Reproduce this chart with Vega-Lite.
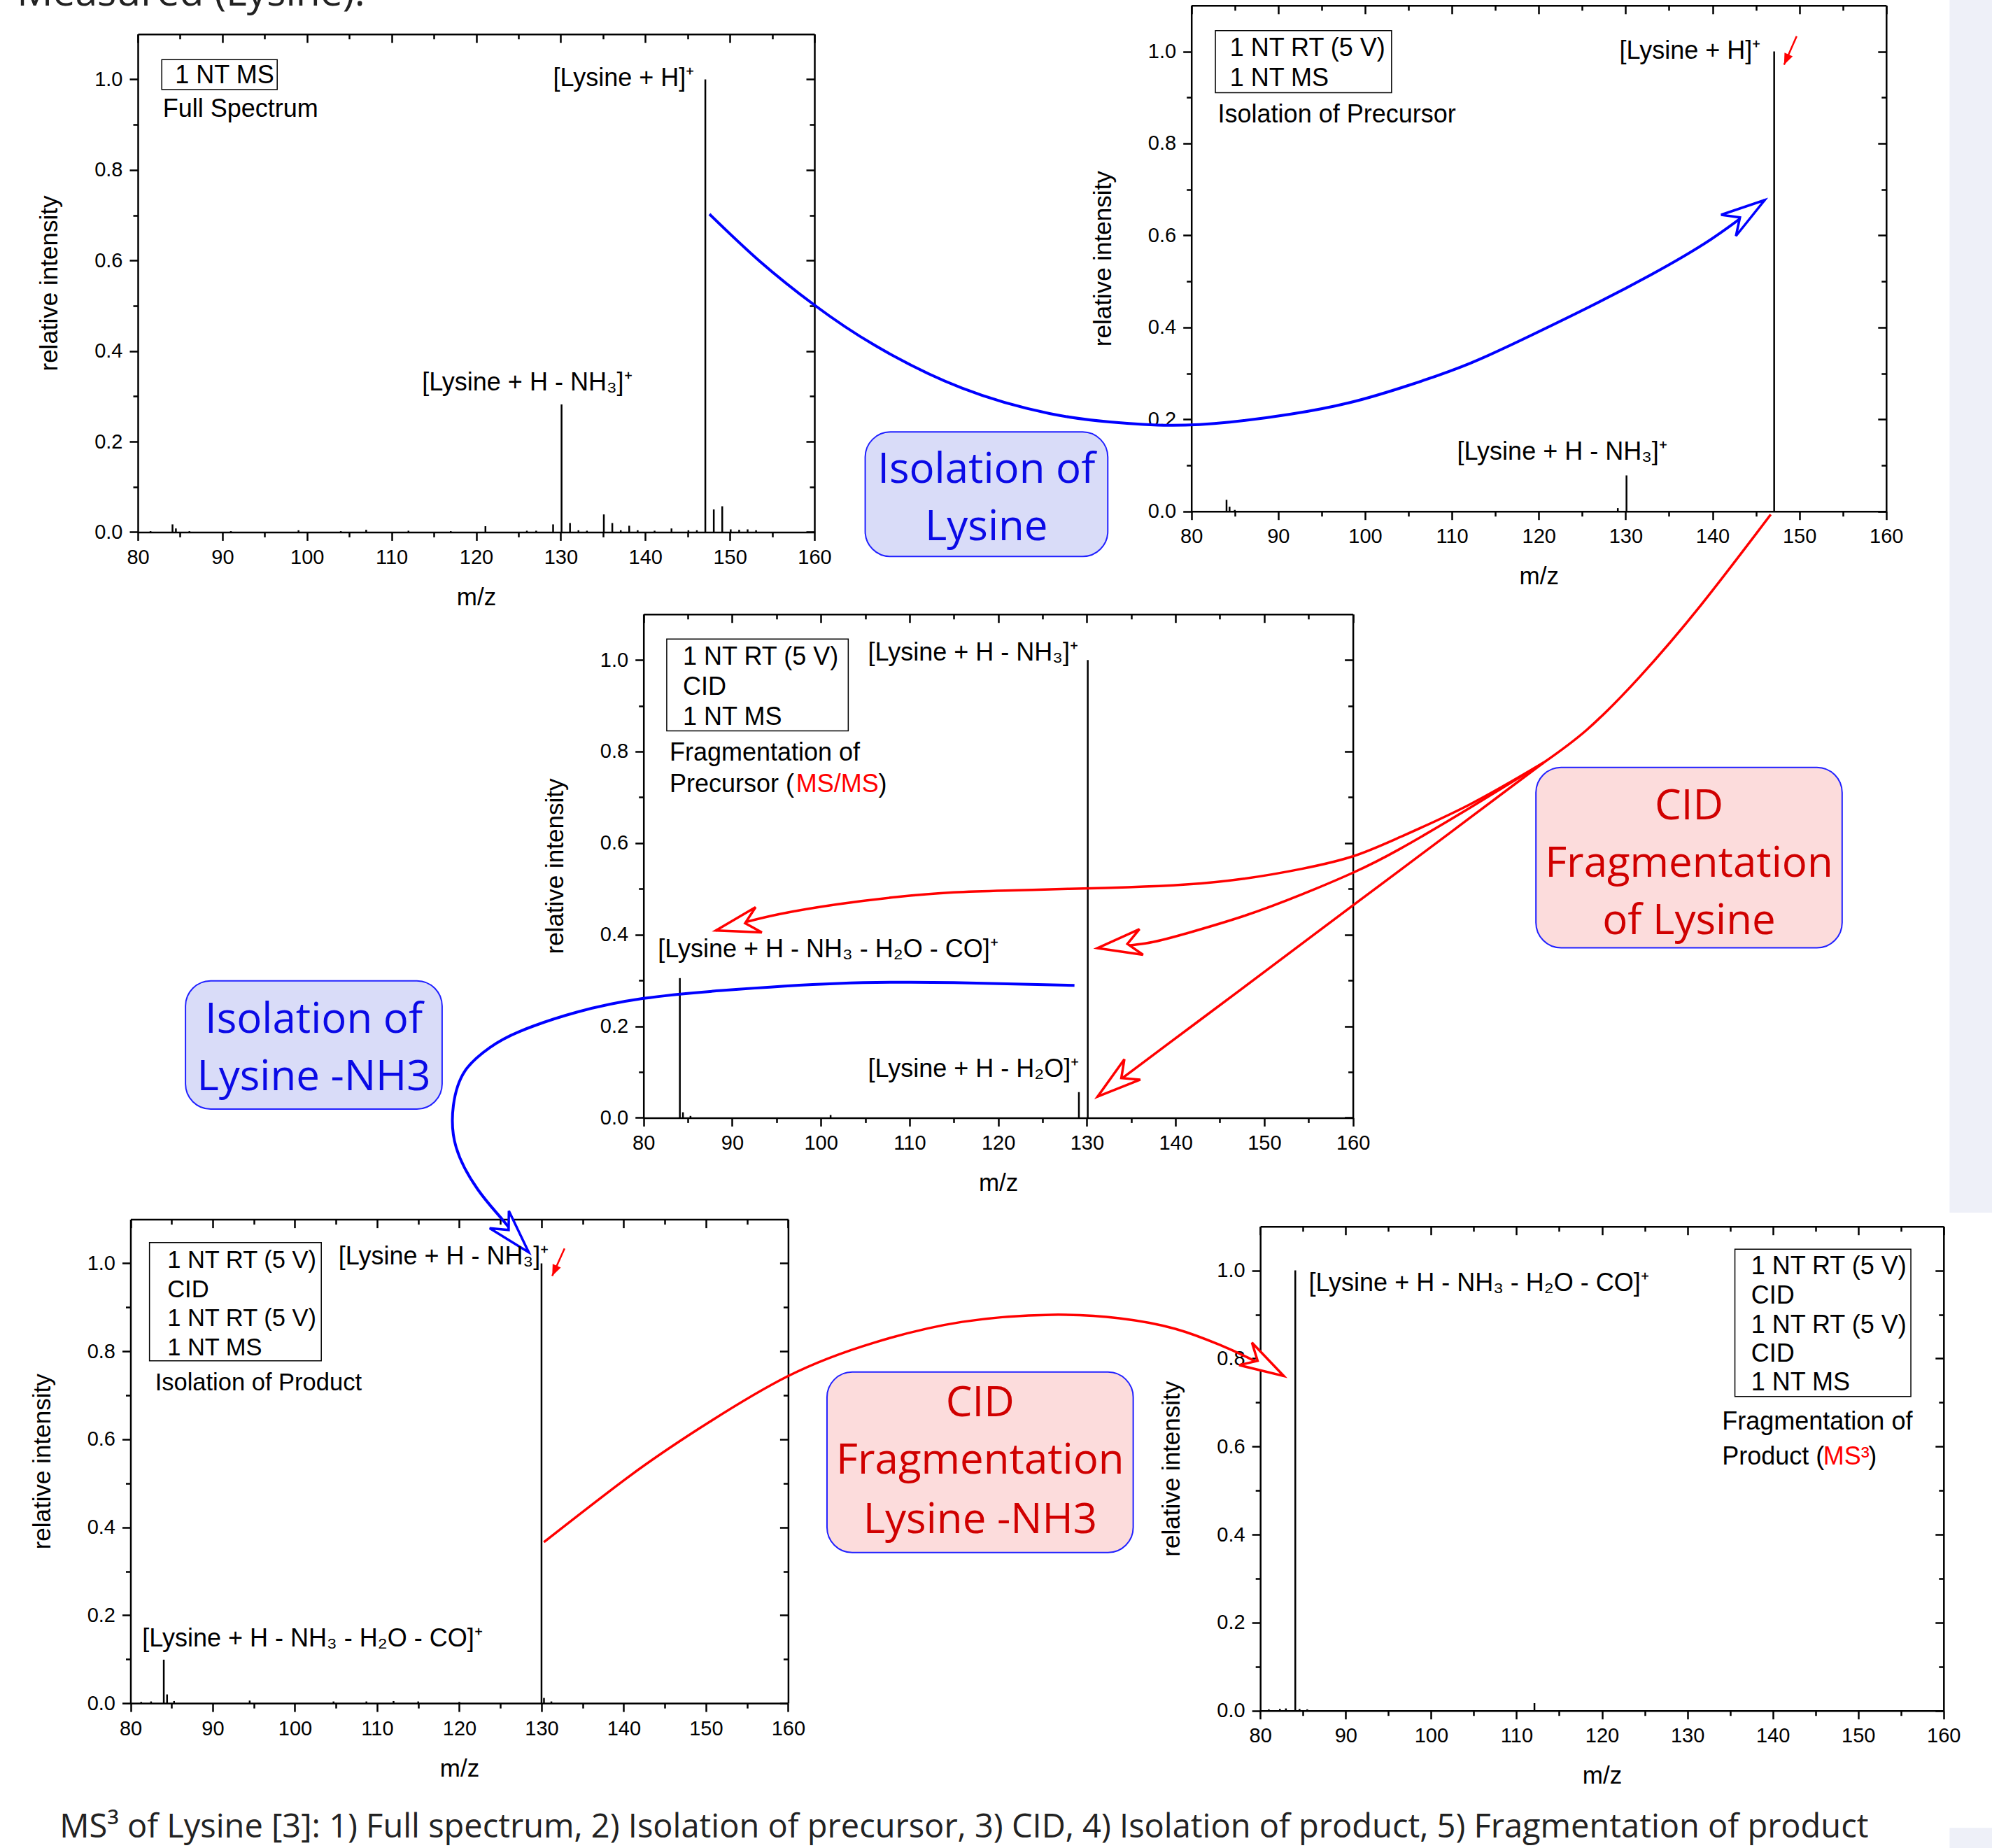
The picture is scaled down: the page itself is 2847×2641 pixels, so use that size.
{
"$schema": "https://vega.github.io/schema/vega-lite/v6.json",
"width": 2847, "height": 2641,
"autosize": {"type": "none"},
"padding": 0,
"background": "white",
"config": {
 "view": {"stroke": null},
 "axis": {"grid": false, "domainColor": "black", "domainWidth": 2.5, "tickColor": "black", "tickWidth": 2.5, "labelColor": "black", "titleColor": "black", "labelFont": "Liberation Sans", "labelFontSize": 29, "titleFont": "Liberation Sans", "titleFontSize": 35, "titleFontWeight": "normal", "labelFlush": false, "labelOverlap": false, "labelBound": false},
 "axisX": {"labelPadding": 10, "titlePadding": 25},
 "axisY": {"labelPadding": 10, "titlePadding": 46},
 "text": {"font": "Liberation Sans", "fontSize": 36, "baseline": "alphabetic", "align": "left", "color": "black"}
},
"datasets": {
 "bg": [{"mz":167.3,"mz2":176,"i":1.2,"i2":-1.525},{"mz":167.3,"mz2":176,"i":-2.863,"i2":-2.95}],
 "s1": [{"mz":81.5,"i":0.002},{"mz":84.1,"i":0.017},{"mz":84.5,"i":0.008},{"mz":86.1,"i":0.002},{"mz":91.0,"i":0.002},{"mz":99.0,"i":0.004},{"mz":104.0,"i":0.002},{"mz":107.0,"i":0.005},{"mz":112.0,"i":0.003},{"mz":117.0,"i":0.002},{"mz":121.1,"i":0.013},{"mz":126.0,"i":0.003},{"mz":127.1,"i":0.003},{"mz":129.1,"i":0.017},{"mz":130.1,"i":0.282},{"mz":131.1,"i":0.02},{"mz":132.1,"i":0.004},{"mz":133.1,"i":0.003},{"mz":135.1,"i":0.039},{"mz":136.1,"i":0.02},{"mz":137.1,"i":0.004},{"mz":138.1,"i":0.014},{"mz":139.1,"i":0.004},{"mz":141.1,"i":0.003},{"mz":143.1,"i":0.008},{"mz":145.1,"i":0.004},{"mz":146.1,"i":0.004},{"mz":147.1,"i":1.0},{"mz":148.1,"i":0.05},{"mz":149.1,"i":0.057},{"mz":150.1,"i":0.006},{"mz":151.1,"i":0.005},{"mz":152.1,"i":0.006},{"mz":153.1,"i":0.004}],
 "pk1": [{"mz":129.1,"i":0.985,"text":"[Lysine + H]⁺"},{"mz":113.6,"i":0.313,"text":"[Lysine + H - NH₃]⁺"}],
 "nt1": [{"mz":84.41,"i":0.9913,"text":"1 NT MS"},{"mz":82.96,"i":0.9168,"text":"Full Spectrum"}],
 "b1": [{"mz":82.83,"mz2":96.48,"i":1.0434,"i2":0.9774}],
 "ms": [{"mz":65.7,"i":1.163,"text":"Measured (Lysine):"}],
 "s2": [{"mz":84.05,"i":0.025},{"mz":84.4,"i":0.01},{"mz":85.0,"i":0.003},{"mz":129.1,"i":0.007},{"mz":130.1,"i":0.078},{"mz":147.1,"i":1.0}],
 "pk2": [{"mz":129.28,"i":0.9837,"text":"[Lysine + H]⁺"},{"mz":110.59,"i":0.1127,"text":"[Lysine + H - NH₃]⁺"}],
 "nt2": [{"mz":84.43,"i":0.9897,"text":"1 NT RT (5 V)"},{"mz":84.43,"i":0.924,"text":"1 NT MS"},{"mz":83.05,"i":0.8454,"text":"Isolation of Precursor"}],
 "b2": [{"mz":82.77,"mz2":103.05,"i":1.0452,"i2":0.9104}],
 "ab2": [{"mz":42.45,"mz2":70.38,"i":0.1725,"i2":-0.0983}],
 "at2": [{"mz":56.4,"i":0.0619,"text":"Isolation of"},{"mz":56.4,"i":-0.0624,"text":"Lysine"}],
 "arA": [{"k":0,"mz":24.52,"i":0.6463},{"k":1,"mz":30.32,"i":0.5437},{"k":2,"mz":36.61,"i":0.4484},{"k":3,"mz":43.53,"i":0.3612},{"k":4,"mz":53.6,"i":0.2678},{"k":5,"mz":63.67,"i":0.2126},{"k":6,"mz":70.6,"i":0.1943},{"k":7,"mz":77.53,"i":0.187},{"k":8,"mz":84.43,"i":0.1939},{"k":9,"mz":91.35,"i":0.2109},{"k":10,"mz":98.27,"i":0.2365},{"k":11,"mz":105.19,"i":0.275},{"k":12,"mz":112.11,"i":0.322},{"k":13,"mz":119.03,"i":0.3818},{"k":14,"mz":125.95,"i":0.4457},{"k":15,"mz":132.87,"i":0.514},{"k":16,"mz":139.79,"i":0.591},{"k":17,"mz":146.0,"i":0.6767}],
 "hA": [{"mz":146.0,"i":0.6767}],
 "rp2": [{"k":0,"mz":149.69,"i":1.0333},{"k":1,"mz":148.24,"i":0.971}],
 "hp2": [{"mz":148.24,"i":0.971}],
 "s3": [{"mz":84.1,"i":0.305},{"mz":84.45,"i":0.012},{"mz":85.3,"i":0.004},{"mz":101.1,"i":0.006},{"mz":129.1,"i":0.056},{"mz":130.1,"i":1.0}],
 "pk3": [{"mz":105.31,"i":0.998,"text":"[Lysine + H - NH₃]⁺"},{"mz":81.63,"i":0.3508,"text":"[Lysine + H - NH₃ - H₂O - CO]⁺"},{"mz":105.31,"i":0.0891,"text":"[Lysine + H - H₂O]⁺"}],
 "nt3": [{"mz":84.45,"i":0.9897,"text":"1 NT RT (5 V)"},{"mz":84.45,"i":0.9237,"text":"CID"},{"mz":84.45,"i":0.8585,"text":"1 NT MS"},{"mz":82.94,"i":0.7796,"text":"Fragmentation of"},{"mz":82.94,"i":0.711,"text":"Precursor ("},{"mz":106.5,"i":0.711,"text":")"}],
 "rd3": [{"mz":97.2,"i":0.711,"text":"MS/MS"}],
 "b3": [{"mz":82.62,"mz2":103.09,"i":1.0455,"i2":0.8449}],
 "ab3r": [{"mz":180.64,"mz2":215.17,"i":0.7652,"i2":0.3712}],
 "at3r": [{"mz":197.9,"i":0.6517,"text":"CID"},{"mz":197.9,"i":0.5267,"text":"Fragmentation"},{"mz":197.9,"i":0.4018,"text":"of Lysine"}],
 "ab3b": [{"mz":28.35,"mz2":57.29,"i":0.2991,"i2":0.0188}],
 "at3b": [{"mz":42.82,"i":0.1855,"text":"Isolation of"},{"mz":42.82,"i":0.0604,"text":"Lysine -NH3"}],
 "arB": [{"k":0,"mz":128.6,"i":0.289},{"k":1,"mz":114.99,"i":0.2953},{"k":2,"mz":101.91,"i":0.2933},{"k":3,"mz":88.83,"i":0.2779},{"k":4,"mz":80.0,"i":0.2607},{"k":5,"mz":72.48,"i":0.2306},{"k":6,"mz":65.94,"i":0.1878},{"k":7,"mz":62.67,"i":0.1534},{"k":8,"mz":59.9,"i":0.1032},{"k":9,"mz":58.56,"i":0.0266},{"k":10,"mz":58.88,"i":-0.0651},{"k":11,"mz":61.32,"i":-0.1568},{"k":12,"mz":64.09,"i":-0.2225},{"k":13,"mz":67.06,"i":-0.294}],
 "hB": [{"mz":67.06,"i":-0.294}],
 "arT": [{"k":0,"mz":207.12,"i":1.3177},{"k":1,"mz":199.21,"i":1.1189},{"k":2,"mz":192.3,"i":0.9622},{"k":3,"mz":186.4,"i":0.8478},{"k":4,"mz":181.49,"i":0.7755}],
 "arR1": [{"k":0,"mz":181.49,"i":0.7755},{"k":1,"mz":173.13,"i":0.6839},{"k":2,"mz":165.24,"i":0.6124},{"k":3,"mz":160.0,"i":0.5711},{"k":4,"mz":154.25,"i":0.5438},{"k":5,"mz":147.71,"i":0.5222},{"k":6,"mz":141.16,"i":0.5094},{"k":7,"mz":134.62,"i":0.5034},{"k":8,"mz":128.0,"i":0.5},{"k":9,"mz":121.53,"i":0.4966},{"k":10,"mz":114.99,"i":0.4923},{"k":11,"mz":108.45,"i":0.482},{"k":12,"mz":101.91,"i":0.4665},{"k":13,"mz":95.37,"i":0.4451},{"k":14,"mz":90.79,"i":0.4237},{"k":15,"mz":88.17,"i":0.4091}],
 "hR1": [{"mz":88.17,"i":0.4091}],
 "arR2": [{"k":0,"mz":181.49,"i":0.7755},{"k":1,"mz":173.13,"i":0.6761},{"k":2,"mz":165.24,"i":0.5866},{"k":3,"mz":160.0,"i":0.5352},{"k":4,"mz":154.25,"i":0.488},{"k":5,"mz":147.71,"i":0.4408},{"k":6,"mz":141.16,"i":0.4023},{"k":7,"mz":136.58,"i":0.3807},{"k":8,"mz":131.21,"i":0.3705}],
 "hR2": [{"mz":131.21,"i":0.3705}],
 "arR3": [{"k":0,"mz":181.49,"i":0.7755},{"k":1,"mz":173.13,"i":0.6541},{"k":2,"mz":165.24,"i":0.5397},{"k":3,"mz":155.77,"i":0.4023},{"k":4,"mz":147.71,"i":0.2852},{"k":5,"mz":139.2,"i":0.1619},{"k":6,"mz":131.21,"i":0.0462}],
 "hR3": [{"mz":131.21,"i":0.0462}],
 "s4": [{"mz":81.3,"i":0.003},{"mz":82.5,"i":0.004},{"mz":84.05,"i":0.099},{"mz":84.45,"i":0.02},{"mz":85.3,"i":0.005},{"mz":94.5,"i":0.006},{"mz":104.7,"i":0.004},{"mz":108.7,"i":0.004},{"mz":112.0,"i":0.005},{"mz":115.0,"i":0.004},{"mz":120.0,"i":0.003},{"mz":130.0,"i":1.0},{"mz":130.3,"i":0.012},{"mz":131.2,"i":0.004}],
 "pk4": [{"mz":105.31,"i":0.998,"text":"[Lysine + H - NH₃]⁺"},{"mz":81.43,"i":0.1295,"text":"[Lysine + H - NH₃ - H₂O - CO]⁺"}],
 "nt4": [{"mz":84.48,"i":0.9893,"text":"1 NT RT (5 V)"},{"mz":84.48,"i":0.9232,"text":"CID"},{"mz":84.48,"i":0.8571,"text":"1 NT RT (5 V)"},{"mz":84.48,"i":0.7911,"text":"1 NT MS"},{"mz":82.99,"i":0.7108,"text":"Isolation of Product"}],
 "b4": [{"mz":82.31,"mz2":103.21,"i":1.0472,"i2":0.7786}],
 "ab4": [{"mz":164.73,"mz2":201.98,"i":0.7528,"i2":0.3425}],
 "at4": [{"mz":183.36,"i":0.6516,"text":"CID"},{"mz":183.36,"i":0.5216,"text":"Fragmentation"},{"mz":183.36,"i":0.386,"text":"Lysine -NH3"}],
 "arD": [{"k":0,"mz":130.29,"i":0.3662},{"k":1,"mz":140.73,"i":0.5166},{"k":2,"mz":149.24,"i":0.6252},{"k":3,"mz":160.0,"i":0.7438},{"k":4,"mz":170.52,"i":0.8201},{"k":5,"mz":181.16,"i":0.8669},{"k":6,"mz":192.05,"i":0.8832},{"k":7,"mz":200.31,"i":0.8752},{"k":8,"mz":207.08,"i":0.8513},{"k":9,"mz":212.5,"i":0.8147},{"k":10,"mz":215.88,"i":0.7861},{"k":11,"mz":220.28,"i":0.7441}],
 "hD": [{"mz":220.28,"i":0.7441}],
 "rp4": [{"k":0,"mz":132.8,"i":1.0339},{"k":1,"mz":131.3,"i":0.9714}],
 "hp4": [{"mz":131.3,"i":0.9714}],
 "cap": [{"mz":71.39,"i":-0.305,"text":"MS³ of Lysine [3]: 1) Full spectrum, 2) Isolation of precursor, 3) CID, 4) Isolation of product, 5) Fragmentation of product"}],
 "s5": [{"mz":81.0,"i":0.003},{"mz":82.3,"i":0.004},{"mz":83.0,"i":0.005},{"mz":84.1,"i":1.0},{"mz":84.6,"i":0.004},{"mz":85.5,"i":0.003},{"mz":112.1,"i":0.017}],
 "pk5": [{"mz":85.67,"i":0.9536,"text":"[Lysine + H - NH₃ - H₂O - CO]⁺"}],
 "nt5": [{"mz":137.46,"i":0.9919,"text":"1 NT RT (5 V)"},{"mz":137.46,"i":0.925,"text":"CID"},{"mz":137.46,"i":0.8582,"text":"1 NT RT (5 V)"},{"mz":137.46,"i":0.793,"text":"CID"},{"mz":137.46,"i":0.7271,"text":"1 NT MS"},{"mz":134.07,"i":0.6378,"text":"Fragmentation of"},{"mz":134.07,"i":0.5592,"text":"Product ("},{"mz":151.2,"i":0.5592,"text":")"}],
 "rd5": [{"mz":145.9,"i":0.5592,"text":"MS³"}],
 "b5": [{"mz":135.57,"mz2":156.17,"i":1.0482,"i2":0.7136}]
},
"layer": [
 {
  "data": {"name": "bg"},
  "mark": {"type": "rect", "color": "#eef0f8"},
  "encoding": {
   "x": {"field":"mz","type":"quantitative","scale":{"domain":[80,160],"range":[1702.7,2695.8],"nice":false},"axis":null},
   "x2": {"field":"mz2"},
   "y": {"field":"i","type":"quantitative","scale":{"domain":[0,1.1],"range":[730.7,7.8],"nice":false},"axis":null},
   "y2": {"field":"i2"}
  }
 },
 {
  "encoding": {
   "x": {"field":"mz","type":"quantitative","scale":{"domain":[80,160],"range":[197,1164],"nice":false},"axis":null},
   "y": {"field":"i","type":"quantitative","scale":{"domain":[0,1.1],"range":[760.4,48.7],"nice":false},"axis":null}
  },
  "layer": [
   {"data":{"name":"s1"},"mark":{"type":"rule","color":"black","strokeWidth":2.5},
    "encoding":{
     "x":{"field":"mz","type":"quantitative","scale":{"domain":[80,160],"range":[197,1164],"nice":false},"axis":{"orient":"bottom","offset":-1880.6,"values":[80,90,100,110,120,130,140,150,160],"tickSize":12,"title":"m/z"}},
     "y":{"field":"i","type":"quantitative","scale":{"domain":[0,1.1],"range":[760.4,48.7],"nice":false},"axis":{"orient":"left","offset":-197,"values":[0,0.2,0.4,0.6,0.8,1],"format":".1f","tickSize":12,"title":"relative intensity"}},
     "y2":{"datum":0}}},
   {"data":{"name":"pk1"},"mark":{"type":"text"},
    "encoding":{
     "x":{"field":"mz","type":"quantitative","scale":{"domain":[80,160],"range":[197,1164],"nice":false},"axis":{"orient":"bottom","offset":-1880.6,"values":[85,95,105,115,125,135,145,155],"tickSize":7,"labels":false,"domain":false,"title":null}},
     "y":{"field":"i","type":"quantitative","scale":{"domain":[0,1.1],"range":[760.4,48.7],"nice":false},"axis":{"orient":"left","offset":-197,"values":[0.1,0.3,0.5,0.7,0.9],"tickSize":7,"labels":false,"domain":false,"title":null}},
     "text":{"field":"text"}}},
   {"data":{"name":"b1"},"mark":{"type":"rect","filled":false,"color":"black","strokeWidth":1.5},
    "encoding":{
     "x":{"field":"mz","type":"quantitative","scale":{"domain":[80,160],"range":[197,1164],"nice":false},"axis":{"orient":"bottom","offset":-2592.3,"values":[80,90,100,110,120,130,140,150,160],"tickSize":12,"labels":false,"title":null}},
     "x2":{"field":"mz2"},
     "y":{"field":"i","type":"quantitative","scale":{"domain":[0,1.1],"range":[760.4,48.7],"nice":false},"axis":{"orient":"left","offset":-1164,"values":[0,0.2,0.4,0.6,0.8,1],"tickSize":12,"labels":false,"title":null}},
     "y2":{"field":"i2"}}},
   {"data":{"name":"nt1"},"mark":{"type":"text"},
    "encoding":{
     "x":{"field":"mz","type":"quantitative","scale":{"domain":[80,160],"range":[197,1164],"nice":false},"axis":{"orient":"bottom","offset":-2592.3,"values":[85,95,105,115,125,135,145,155],"tickSize":7,"labels":false,"domain":false,"title":null}},
     "y":{"field":"i","type":"quantitative","scale":{"domain":[0,1.1],"range":[760.4,48.7],"nice":false},"axis":{"orient":"left","offset":-1164,"values":[0.1,0.3,0.5,0.7,0.9],"tickSize":7,"labels":false,"domain":false,"title":null}},
     "text":{"field":"text"}}},
   {"data":{"name":"ms"},"mark":{"type":"text","font":"Open Sans","fontSize":57,"color":"#222222"},"encoding":{"text":{"field":"text"}}}
  ],
  "resolve": {"axis": {"x": "independent", "y": "independent"}}
 },
 {
  "encoding": {
   "x": {"field":"mz","type":"quantitative","scale":{"domain":[80,160],"range":[1702.7,2695.8],"nice":false},"axis":null},
   "y": {"field":"i","type":"quantitative","scale":{"domain":[0,1.1],"range":[730.7,7.8],"nice":false},"axis":null}
  },
  "layer": [
   {"data":{"name":"s2"},"mark":{"type":"rule","color":"black","strokeWidth":2.5},
    "encoding":{
     "x":{"field":"mz","type":"quantitative","scale":{"domain":[80,160],"range":[1702.7,2695.8],"nice":false},"axis":{"orient":"bottom","offset":-1910.3,"values":[80,90,100,110,120,130,140,150,160],"tickSize":12,"title":"m/z"}},
     "y":{"field":"i","type":"quantitative","scale":{"domain":[0,1.1],"range":[730.7,7.8],"nice":false},"axis":{"orient":"left","offset":-1702.7,"values":[0,0.2,0.4,0.6,0.8,1],"format":".1f","tickSize":12,"title":"relative intensity"}},
     "y2":{"datum":0}}},
   {"data":{"name":"pk2"},"mark":{"type":"text"},
    "encoding":{
     "x":{"field":"mz","type":"quantitative","scale":{"domain":[80,160],"range":[1702.7,2695.8],"nice":false},"axis":{"orient":"bottom","offset":-1910.3,"values":[85,95,105,115,125,135,145,155],"tickSize":7,"labels":false,"domain":false,"title":null}},
     "y":{"field":"i","type":"quantitative","scale":{"domain":[0,1.1],"range":[730.7,7.8],"nice":false},"axis":{"orient":"left","offset":-1702.7,"values":[0.1,0.3,0.5,0.7,0.9],"tickSize":7,"labels":false,"domain":false,"title":null}},
     "text":{"field":"text"}}},
   {"data":{"name":"b2"},"mark":{"type":"rect","filled":false,"color":"black","strokeWidth":1.5},
    "encoding":{
     "x":{"field":"mz","type":"quantitative","scale":{"domain":[80,160],"range":[1702.7,2695.8],"nice":false},"axis":{"orient":"bottom","offset":-2633.2,"values":[80,90,100,110,120,130,140,150,160],"tickSize":12,"labels":false,"title":null}},
     "x2":{"field":"mz2"},
     "y":{"field":"i","type":"quantitative","scale":{"domain":[0,1.1],"range":[730.7,7.8],"nice":false},"axis":{"orient":"left","offset":-2695.8,"values":[0,0.2,0.4,0.6,0.8,1],"tickSize":12,"labels":false,"title":null}},
     "y2":{"field":"i2"}}},
   {"data":{"name":"nt2"},"mark":{"type":"text"},
    "encoding":{
     "x":{"field":"mz","type":"quantitative","scale":{"domain":[80,160],"range":[1702.7,2695.8],"nice":false},"axis":{"orient":"bottom","offset":-2633.2,"values":[85,95,105,115,125,135,145,155],"tickSize":7,"labels":false,"domain":false,"title":null}},
     "y":{"field":"i","type":"quantitative","scale":{"domain":[0,1.1],"range":[730.7,7.8],"nice":false},"axis":{"orient":"left","offset":-2695.8,"values":[0.1,0.3,0.5,0.7,0.9],"tickSize":7,"labels":false,"domain":false,"title":null}},
     "text":{"field":"text"}}},
   {"data":{"name":"ab2"},"mark":{"type":"rect","cornerRadius":36,"fill":"#d9dcf8","stroke":"#2020ff","strokeWidth":2},"encoding":{"x2":{"field":"mz2"},"y2":{"field":"i2"}}},
   {"data":{"name":"at2"},"mark":{"type":"text","font":"Open Sans","fontSize":60,"align":"center","color":"#0a0ae6"},"encoding":{"text":{"field":"text"}}},
   {"data":{"name":"arA"},"mark":{"type":"line","color":"#0000ff","strokeWidth":4,"interpolate":"natural"},"encoding":{"order":{"field":"k"}}},
   {"data":{"name":"hA"},"mark":{"type":"point","shape":"M0,0L-2,-0.587L-1.365,0L-2,0.587Z","size":3969,"angle":-35,"filled":true,"fill":"white","stroke":"#0000ff","strokeWidth":3.5,"opacity":1}},
   {"data":{"name":"rp2"},"mark":{"type":"line","color":"#ff0000","strokeWidth":2.5},"encoding":{"order":{"field":"k"}}},
   {"data":{"name":"hp2"},"mark":{"type":"point","shape":"M0,0L-2,-0.8L-2,0.8Z","size":256,"angle":114,"filled":true,"fill":"#ff0000","strokeWidth":0,"opacity":1}}
  ],
  "resolve": {"axis": {"x": "independent", "y": "independent"}}
 },
 {
  "encoding": {
   "x": {"field":"mz","type":"quantitative","scale":{"domain":[80,160],"range":[919.7,1933.6],"nice":false},"axis":null},
   "y": {"field":"i","type":"quantitative","scale":{"domain":[0,1.1],"range":[1597.4,877.7],"nice":false},"axis":null}
  },
  "layer": [
   {"data":{"name":"s3"},"mark":{"type":"rule","color":"black","strokeWidth":2.5},
    "encoding":{
     "x":{"field":"mz","type":"quantitative","scale":{"domain":[80,160],"range":[919.7,1933.6],"nice":false},"axis":{"orient":"bottom","offset":-1043.6,"values":[80,90,100,110,120,130,140,150,160],"tickSize":12,"title":"m/z"}},
     "y":{"field":"i","type":"quantitative","scale":{"domain":[0,1.1],"range":[1597.4,877.7],"nice":false},"axis":{"orient":"left","offset":-919.7,"values":[0,0.2,0.4,0.6,0.8,1],"format":".1f","tickSize":12,"title":"relative intensity"}},
     "y2":{"datum":0}}},
   {"data":{"name":"pk3"},"mark":{"type":"text"},
    "encoding":{
     "x":{"field":"mz","type":"quantitative","scale":{"domain":[80,160],"range":[919.7,1933.6],"nice":false},"axis":{"orient":"bottom","offset":-1043.6,"values":[85,95,105,115,125,135,145,155],"tickSize":7,"labels":false,"domain":false,"title":null}},
     "y":{"field":"i","type":"quantitative","scale":{"domain":[0,1.1],"range":[1597.4,877.7],"nice":false},"axis":{"orient":"left","offset":-919.7,"values":[0.1,0.3,0.5,0.7,0.9],"tickSize":7,"labels":false,"domain":false,"title":null}},
     "text":{"field":"text"}}},
   {"data":{"name":"b3"},"mark":{"type":"rect","filled":false,"color":"black","strokeWidth":1.5},
    "encoding":{
     "x":{"field":"mz","type":"quantitative","scale":{"domain":[80,160],"range":[919.7,1933.6],"nice":false},"axis":{"orient":"bottom","offset":-1763.3,"values":[80,90,100,110,120,130,140,150,160],"tickSize":12,"labels":false,"title":null}},
     "x2":{"field":"mz2"},
     "y":{"field":"i","type":"quantitative","scale":{"domain":[0,1.1],"range":[1597.4,877.7],"nice":false},"axis":{"orient":"left","offset":-1933.6,"values":[0,0.2,0.4,0.6,0.8,1],"tickSize":12,"labels":false,"title":null}},
     "y2":{"field":"i2"}}},
   {"data":{"name":"nt3"},"mark":{"type":"text"},
    "encoding":{
     "x":{"field":"mz","type":"quantitative","scale":{"domain":[80,160],"range":[919.7,1933.6],"nice":false},"axis":{"orient":"bottom","offset":-1763.3,"values":[85,95,105,115,125,135,145,155],"tickSize":7,"labels":false,"domain":false,"title":null}},
     "y":{"field":"i","type":"quantitative","scale":{"domain":[0,1.1],"range":[1597.4,877.7],"nice":false},"axis":{"orient":"left","offset":-1933.6,"values":[0.1,0.3,0.5,0.7,0.9],"tickSize":7,"labels":false,"domain":false,"title":null}},
     "text":{"field":"text"}}},
   {"data":{"name":"rd3"},"mark":{"type":"text","color":"#ff0000"},"encoding":{"text":{"field":"text"}}},
   {"data":{"name":"ab3r"},"mark":{"type":"rect","cornerRadius":36,"fill":"#fcdcdc","stroke":"#2020ff","strokeWidth":2},"encoding":{"x2":{"field":"mz2"},"y2":{"field":"i2"}}},
   {"data":{"name":"at3r"},"mark":{"type":"text","font":"Open Sans","fontSize":60,"align":"center","color":"#d00000"},"encoding":{"text":{"field":"text"}}},
   {"data":{"name":"ab3b"},"mark":{"type":"rect","cornerRadius":36,"fill":"#d9dcf8","stroke":"#2020ff","strokeWidth":2},"encoding":{"x2":{"field":"mz2"},"y2":{"field":"i2"}}},
   {"data":{"name":"at3b"},"mark":{"type":"text","font":"Open Sans","fontSize":60,"align":"center","color":"#0a0ae6"},"encoding":{"text":{"field":"text"}}},
   {"data":{"name":"arB"},"mark":{"type":"line","color":"#0000ff","strokeWidth":4,"interpolate":"natural"},"encoding":{"order":{"field":"k"}}},
   {"data":{"name":"hB"},"mark":{"type":"point","shape":"M0,0L-2,-0.587L-1.365,0L-2,0.587Z","size":3969,"angle":48,"filled":true,"fill":"white","stroke":"#0000ff","strokeWidth":3.5,"opacity":1}},
   {"data":{"name":"arT"},"mark":{"type":"line","color":"#ff0000","strokeWidth":3.5,"interpolate":"natural"},"encoding":{"order":{"field":"k"}}},
   {"data":{"name":"arR1"},"mark":{"type":"line","color":"#ff0000","strokeWidth":3.5,"interpolate":"natural"},"encoding":{"order":{"field":"k"}}},
   {"data":{"name":"arR2"},"mark":{"type":"line","color":"#ff0000","strokeWidth":3.5,"interpolate":"natural"},"encoding":{"order":{"field":"k"}}},
   {"data":{"name":"arR3"},"mark":{"type":"line","color":"#ff0000","strokeWidth":3.5,"interpolate":"natural"},"encoding":{"order":{"field":"k"}}},
   {"data":{"name":"hR1"},"mark":{"type":"point","shape":"M0,0L-2,-0.587L-1.365,0L-2,0.587Z","size":3969,"angle":166,"filled":true,"fill":"white","stroke":"#ff0000","strokeWidth":3.5,"opacity":1}},
   {"data":{"name":"hR2"},"mark":{"type":"point","shape":"M0,0L-2,-0.587L-1.365,0L-2,0.587Z","size":3969,"angle":172,"filled":true,"fill":"white","stroke":"#ff0000","strokeWidth":3.5,"opacity":1}},
   {"data":{"name":"hR3"},"mark":{"type":"point","shape":"M0,0L-2,-0.587L-1.365,0L-2,0.587Z","size":3969,"angle":142,"filled":true,"fill":"white","stroke":"#ff0000","strokeWidth":3.5,"opacity":1}}
  ],
  "resolve": {"axis": {"x": "independent", "y": "independent"}}
 },
 {
  "encoding": {
   "x": {"field":"mz","type":"quantitative","scale":{"domain":[80,160],"range":[186.5,1126.4],"nice":false},"axis":null},
   "y": {"field":"i","type":"quantitative","scale":{"domain":[0,1.1],"range":[2434.1,1742.6],"nice":false},"axis":null}
  },
  "layer": [
   {"data":{"name":"s4"},"mark":{"type":"rule","color":"black","strokeWidth":2.5},
    "encoding":{
     "x":{"field":"mz","type":"quantitative","scale":{"domain":[80,160],"range":[186.5,1126.4],"nice":false},"axis":{"orient":"bottom","offset":-206.9,"values":[80,90,100,110,120,130,140,150,160],"tickSize":12,"title":"m/z"}},
     "y":{"field":"i","type":"quantitative","scale":{"domain":[0,1.1],"range":[2434.1,1742.6],"nice":false},"axis":{"orient":"left","offset":-186.5,"values":[0,0.2,0.4,0.6,0.8,1],"format":".1f","tickSize":12,"title":"relative intensity"}},
     "y2":{"datum":0}}},
   {"data":{"name":"pk4"},"mark":{"type":"text"},
    "encoding":{
     "x":{"field":"mz","type":"quantitative","scale":{"domain":[80,160],"range":[186.5,1126.4],"nice":false},"axis":{"orient":"bottom","offset":-206.9,"values":[85,95,105,115,125,135,145,155],"tickSize":7,"labels":false,"domain":false,"title":null}},
     "y":{"field":"i","type":"quantitative","scale":{"domain":[0,1.1],"range":[2434.1,1742.6],"nice":false},"axis":{"orient":"left","offset":-186.5,"values":[0.1,0.3,0.5,0.7,0.9],"tickSize":7,"labels":false,"domain":false,"title":null}},
     "text":{"field":"text"}}},
   {"data":{"name":"b4"},"mark":{"type":"rect","filled":false,"color":"black","strokeWidth":1.5},
    "encoding":{
     "x":{"field":"mz","type":"quantitative","scale":{"domain":[80,160],"range":[186.5,1126.4],"nice":false},"axis":{"orient":"bottom","offset":-898.4,"values":[80,90,100,110,120,130,140,150,160],"tickSize":12,"labels":false,"title":null}},
     "x2":{"field":"mz2"},
     "y":{"field":"i","type":"quantitative","scale":{"domain":[0,1.1],"range":[2434.1,1742.6],"nice":false},"axis":{"orient":"left","offset":-1126.4,"values":[0,0.2,0.4,0.6,0.8,1],"tickSize":12,"labels":false,"title":null}},
     "y2":{"field":"i2"}}},
   {"data":{"name":"nt4"},"mark":{"type":"text","fontSize":34.5},
    "encoding":{
     "x":{"field":"mz","type":"quantitative","scale":{"domain":[80,160],"range":[186.5,1126.4],"nice":false},"axis":{"orient":"bottom","offset":-898.4,"values":[85,95,105,115,125,135,145,155],"tickSize":7,"labels":false,"domain":false,"title":null}},
     "y":{"field":"i","type":"quantitative","scale":{"domain":[0,1.1],"range":[2434.1,1742.6],"nice":false},"axis":{"orient":"left","offset":-1126.4,"values":[0.1,0.3,0.5,0.7,0.9],"tickSize":7,"labels":false,"domain":false,"title":null}},
     "text":{"field":"text"}}},
   {"data":{"name":"ab4"},"mark":{"type":"rect","cornerRadius":36,"fill":"#fcdcdc","stroke":"#2020ff","strokeWidth":2},"encoding":{"x2":{"field":"mz2"},"y2":{"field":"i2"}}},
   {"data":{"name":"at4"},"mark":{"type":"text","font":"Open Sans","fontSize":60,"align":"center","color":"#d00000"},"encoding":{"text":{"field":"text"}}},
   {"data":{"name":"cap"},"mark":{"type":"text","font":"Open Sans","fontSize":47,"color":"#222222"},"encoding":{"text":{"field":"text"}}},
   {"data":{"name":"arD"},"mark":{"type":"line","color":"#ff0000","strokeWidth":3.5,"interpolate":"natural"},"encoding":{"order":{"field":"k"}}},
   {"data":{"name":"hD"},"mark":{"type":"point","shape":"M0,0L-2,-0.587L-1.365,0L-2,0.587Z","size":3969,"angle":30,"filled":true,"fill":"white","stroke":"#ff0000","strokeWidth":3.5,"opacity":1}},
   {"data":{"name":"rp4"},"mark":{"type":"line","color":"#ff0000","strokeWidth":2.5},"encoding":{"order":{"field":"k"}}},
   {"data":{"name":"hp4"},"mark":{"type":"point","shape":"M0,0L-2,-0.8L-2,0.8Z","size":256,"angle":114,"filled":true,"fill":"#ff0000","strokeWidth":0,"opacity":1}}
  ],
  "resolve": {"axis": {"x": "independent", "y": "independent"}}
 },
 {
  "encoding": {
   "x": {"field":"mz","type":"quantitative","scale":{"domain":[80,160],"range":[1801.2,2777.8],"nice":false},"axis":null},
   "y": {"field":"i","type":"quantitative","scale":{"domain":[0,1.1],"range":[2444.7,1752.7],"nice":false},"axis":null}
  },
  "layer": [
   {"data":{"name":"s5"},"mark":{"type":"rule","color":"black","strokeWidth":2.5},
    "encoding":{
     "x":{"field":"mz","type":"quantitative","scale":{"domain":[80,160],"range":[1801.2,2777.8],"nice":false},"axis":{"orient":"bottom","offset":-196.3,"values":[80,90,100,110,120,130,140,150,160],"tickSize":12,"title":"m/z"}},
     "y":{"field":"i","type":"quantitative","scale":{"domain":[0,1.1],"range":[2444.7,1752.7],"nice":false},"axis":{"orient":"left","offset":-1801.2,"values":[0,0.2,0.4,0.6,0.8,1],"format":".1f","tickSize":12,"title":"relative intensity"}},
     "y2":{"datum":0}}},
   {"data":{"name":"pk5"},"mark":{"type":"text"},
    "encoding":{
     "x":{"field":"mz","type":"quantitative","scale":{"domain":[80,160],"range":[1801.2,2777.8],"nice":false},"axis":{"orient":"bottom","offset":-196.3,"values":[85,95,105,115,125,135,145,155],"tickSize":7,"labels":false,"domain":false,"title":null}},
     "y":{"field":"i","type":"quantitative","scale":{"domain":[0,1.1],"range":[2444.7,1752.7],"nice":false},"axis":{"orient":"left","offset":-1801.2,"values":[0.1,0.3,0.5,0.7,0.9],"tickSize":7,"labels":false,"domain":false,"title":null}},
     "text":{"field":"text"}}},
   {"data":{"name":"b5"},"mark":{"type":"rect","filled":false,"color":"black","strokeWidth":1.5},
    "encoding":{
     "x":{"field":"mz","type":"quantitative","scale":{"domain":[80,160],"range":[1801.2,2777.8],"nice":false},"axis":{"orient":"bottom","offset":-888.3,"values":[80,90,100,110,120,130,140,150,160],"tickSize":12,"labels":false,"title":null}},
     "x2":{"field":"mz2"},
     "y":{"field":"i","type":"quantitative","scale":{"domain":[0,1.1],"range":[2444.7,1752.7],"nice":false},"axis":{"orient":"left","offset":-2777.8,"values":[0,0.2,0.4,0.6,0.8,1],"tickSize":12,"labels":false,"title":null}},
     "y2":{"field":"i2"}}},
   {"data":{"name":"nt5"},"mark":{"type":"text"},
    "encoding":{
     "x":{"field":"mz","type":"quantitative","scale":{"domain":[80,160],"range":[1801.2,2777.8],"nice":false},"axis":{"orient":"bottom","offset":-888.3,"values":[85,95,105,115,125,135,145,155],"tickSize":7,"labels":false,"domain":false,"title":null}},
     "y":{"field":"i","type":"quantitative","scale":{"domain":[0,1.1],"range":[2444.7,1752.7],"nice":false},"axis":{"orient":"left","offset":-2777.8,"values":[0.1,0.3,0.5,0.7,0.9],"tickSize":7,"labels":false,"domain":false,"title":null}},
     "text":{"field":"text"}}},
   {"data":{"name":"rd5"},"mark":{"type":"text","color":"#ff0000"},"encoding":{"text":{"field":"text"}}}
  ],
  "resolve": {"axis": {"x": "independent", "y": "independent"}}
 }
],
"resolve": {"scale": {"x": "independent", "y": "independent"}}
}
